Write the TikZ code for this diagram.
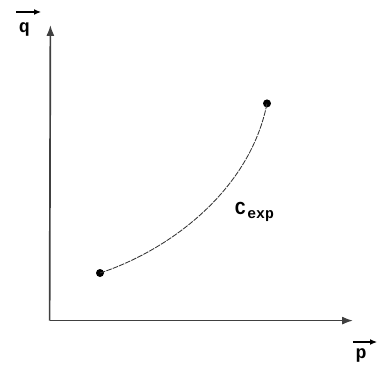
\documentclass[tikz,border=0pt]{standalone}
\usepackage{fontspec}
\setmonofont{Liberation Mono}
\usepackage{tikz}
\usetikzlibrary{arrows.meta}

\tikzset{
  axis/.style={line width=1.2pt, black!75, -{Latex[length=2.7mm,width=2mm]}},
  vecarrow/.style={line width=1pt, -{Latex[length=1.8mm,width=1.5mm]}},
  dot/.style={circle, fill=black, inner sep=0pt, minimum size=2mm},
  axislabel/.style={font=\fontsize{13}{15}\selectfont\ttfamily\bfseries, inner sep=0pt}
}

\begin{document}
\begin{tikzpicture}
\useasboundingbox (0,0) rectangle (9.65,9.175);
% axes
\coordinate (O) at (1.24,1.16);
\coordinate (qtip) at (1.26,8.55);
\coordinate (ptip) at (8.825,1.16);
\draw[axis] (O) -- (qtip);
\draw[axis] (O) -- (ptip);
\node[axislabel] (qlab) at (0.61,8.45) {q};
\node[axislabel] (plab) at (9.03,0.3) {p};
\draw[vecarrow] (0.4,8.875) -- (1.03,8.875);
\draw[vecarrow] (8.82,0.625) -- (9.43,0.625);
% experimental curve
\node[dot] (start) at (2.5,2.35) {};
\node[dot] (end) at (6.675,6.59) {};
\draw[line width=0.6pt, black!80, dash pattern=on 4pt off 0.8pt]
  (start.center) .. controls (4.25,2.925) and (6.25,4.425) .. (end.center);
\node[font=\fontsize{13}{15}\selectfont\ttfamily\bfseries, anchor=west] (cexp) at (5.75,3.88)
  {C\kern1pt\raisebox{-3pt}{\fontsize{10.5}{12}\selectfont exp}};
\end{tikzpicture}
\end{document}
